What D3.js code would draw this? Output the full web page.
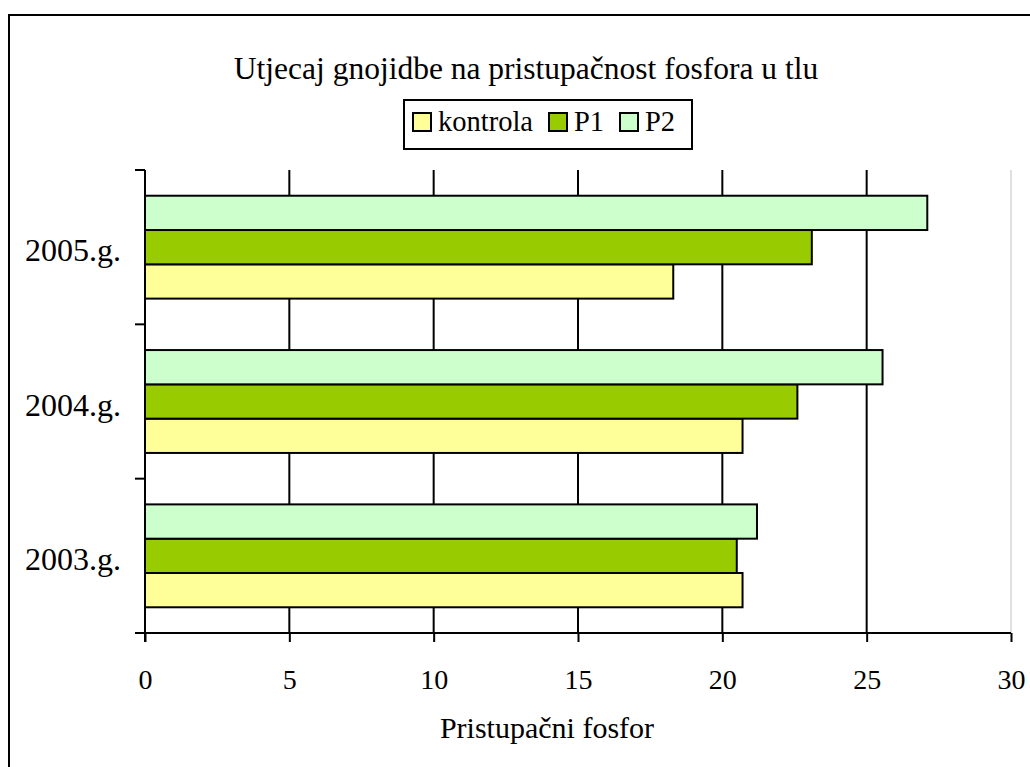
<!DOCTYPE html>
<html><head><meta charset="utf-8">
<script src="https://cdn.jsdelivr.net/npm/d3@7"></script>
<style>body{margin:0;background:#fff}svg{display:block}svg text{font-family:"Liberation Serif","Times New Roman",serif;fill:#000}</style>
</head><body>
<svg id="c" width="1030" height="767"></svg>
<script>
const categories = ["2003.g.", "2004.g.", "2005.g."];
const seriesNames = ["kontrola", "P1", "P2"];
const kontrola = [20.7, 20.7, 18.3];
const P1 = [20.5, 22.6, 23.1];
const P2 = [21.2, 25.55, 27.1];
const xTicks = [0, 5, 10, 15, 20, 25, 30];
const colors = ["#FFFF99", "#99CC00", "#CCFFCC"];
const title = "Utjecaj gnojidbe na pristupačnost fosfora u tlu";
const xTitle = "Pristupačni fosfor";

(function () {
const seriesVals = [kontrola, P1, P2];
const svg = d3.select("#c");

// outer frame
svg.append("rect").attr("x", 9).attr("y", 15).attr("width", 1040).attr("height", 780)
  .attr("fill", "#fff").attr("stroke", "#000").attr("stroke-width", 2);

const pL = 145, pR = 1011, pT = 170, pB = 633;
const x = d3.scaleLinear().domain([0, 30]).range([pL, pR]);
const y = d3.scaleBand().domain(categories.slice().reverse()).range([pT, pB]).paddingInner(0).paddingOuter(0);
const inner = d3.scaleBand().domain(seriesNames.slice().reverse()).range([0, y.bandwidth()]).paddingOuter(0.75).paddingInner(0);

// plot right border (gray)
svg.append("line").attr("x1", pR).attr("x2", pR).attr("y1", pT).attr("y2", pB)
  .attr("stroke", "#c0c0c0").attr("stroke-width", 1);

// gridlines
svg.append("g").selectAll("line").data(xTicks.filter(t => t > 0 && t < 30)).join("line")
  .attr("x1", d => x(d)).attr("x2", d => x(d)).attr("y1", pT).attr("y2", pB)
  .attr("stroke", "#000").attr("stroke-width", 2);

// bars
const groups = svg.append("g").selectAll("g").data(categories).join("g")
  .attr("transform", c => `translate(0,${y(c)})`);
groups.selectAll("rect").data((c, i) => seriesNames.map((s, k) => ({s, v: seriesVals[k][i], k})))
  .join("rect")
  .attr("x", x(0)).attr("y", d => inner(d.s))
  .attr("width", d => x(d.v) - x(0)).attr("height", inner.bandwidth())
  .attr("fill", d => colors[d.k]).attr("stroke", "#000").attr("stroke-width", 2);

// x axis
const xAxis = d3.axisBottom(x).tickValues(xTicks).tickSize(9).tickPadding(12).tickFormat(d3.format("d"));
const gx = svg.append("g").attr("transform", `translate(0,${pB})`).call(xAxis);
gx.attr("font-family", null).attr("font-size", null);
gx.select(".domain").attr("stroke", "#000").attr("stroke-width", 2).attr("d", `M${pL - 10},0H${pR}`);
gx.selectAll(".tick line").attr("stroke", "#000").attr("stroke-width", 2);
gx.selectAll(".tick text").attr("y", 56).attr("dy", null).style("font-size", "28px");

// y axis
const yTickPos = [pT, ...categories.map(c => y(c) + y.bandwidth())];
svg.append("line").attr("x1", pL).attr("x2", pL).attr("y1", pT).attr("y2", pB + 9)
  .attr("stroke", "#000").attr("stroke-width", 2);
svg.append("g").selectAll("line").data(yTickPos).join("line")
  .attr("x1", pL - 10).attr("x2", pL).attr("y1", d => d).attr("y2", d => d)
  .attr("stroke", "#000").attr("stroke-width", 2);
svg.append("g").selectAll("text").data(categories).join("text")
  .attr("x", 121).attr("y", c => y(c) + y.bandwidth() / 2 + 14)
  .attr("text-anchor", "end").style("font-size", "32px")
  .text(c => c);

// titles
svg.append("text").attr("x", 526).attr("y", 79).attr("text-anchor", "middle")
  .style("font-size", "31.5px").text(title);
svg.append("text").attr("x", 547).attr("y", 738).attr("text-anchor", "middle")
  .style("font-size", "30px").text(xTitle);

// legend
svg.append("rect").attr("x", 404).attr("y", 100).attr("width", 288).attr("height", 49)
  .attr("fill", "#fff").attr("stroke", "#000").attr("stroke-width", 2);
const legX = [413, 549, 620];
const lg = svg.append("g").selectAll("g").data(seriesNames).join("g")
  .attr("transform", (d, i) => `translate(${legX[i]},113)`);
lg.append("rect").attr("width", 18).attr("height", 18).attr("fill", (d, i) => colors[i])
  .attr("stroke", "#000").attr("stroke-width", 2);
lg.append("text").attr("x", 25).attr("y", 18).style("font-size", "28.5px").text(d => d);
})();
</script>
</body></html>
